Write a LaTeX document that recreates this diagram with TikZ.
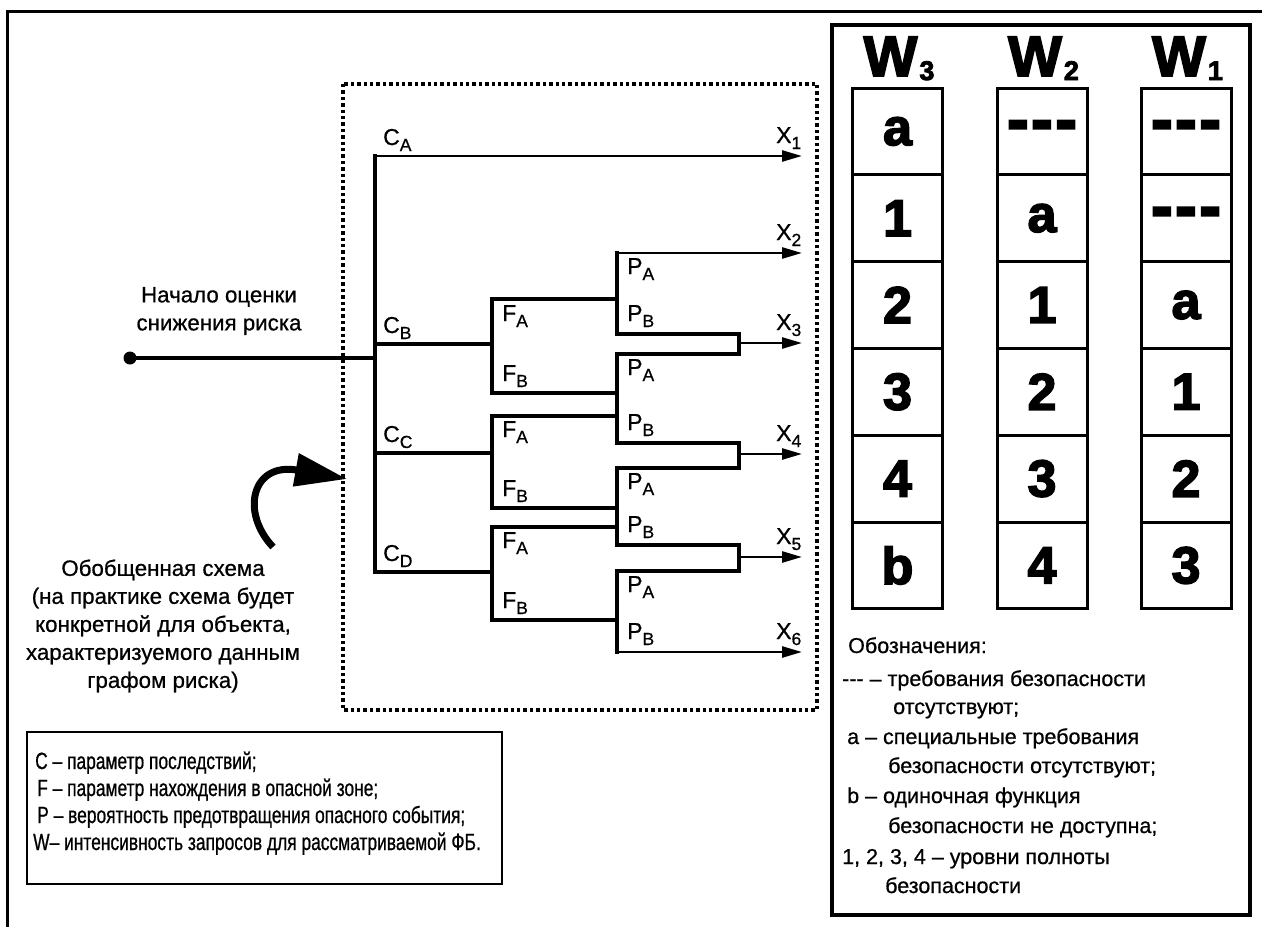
\documentclass[tikz,border=0pt]{standalone}
\usepackage{fontspec}
\setmainfont{Liberation Sans}
\newfontfamily\txtfont[FakeBold=0.7]{Liberation Sans}
\newfontfamily\narrowfont[FakeBold=0.7,FakeStretch=0.74]{Liberation Sans}
\newfontfamily\heavyfont[FakeBold=3]{Liberation Sans Bold}
\usetikzlibrary{arrows.meta}
\newcommand{\lbl}[2]{#1\raisebox{-6pt}{\fontsize{17.5}{17.5}\selectfont #2}}
\newcommand{\wsub}[1]{\kern2pt\raisebox{-4pt}{\fontsize{27}{27}\selectfont #1}}
\newcommand{\hy}{\hbox{-}}
\newcommand{\dsh}{\scalebox{1.25}[1.3]{\hbox{-}\kern2pt\hbox{-}\kern2pt\hbox{-}}}
\tikzset{
  ln/.style={line width=3.2pt, line cap=rect},
  arr/.style={line width=2.6pt, -{Triangle[length=20pt,width=11pt]}},
  lab/.style={inner sep=0pt, anchor=base west, font=\txtfont\fontsize{23}{23}\selectfont},
  txt/.style={inner sep=0pt, align=center, font=\txtfont\fontsize{22.3}{28}\selectfont},
  leg/.style={inner sep=0pt, anchor=base west, font=\narrowfont\fontsize{23.5}{23.5}\selectfont},
  note/.style={inner sep=0pt, anchor=base west, font=\txtfont\fontsize{21.5}{21.5}\selectfont},
  cell/.style={draw, line width=3pt, minimum width=90pt, minimum height=86.8pt, inner sep=0pt, font=\heavyfont\fontsize{52}{52}\selectfont},
  head/.style={inner sep=0pt, anchor=base, font=\heavyfont\fontsize{57}{57}\selectfont},
  dotbox/.style={line width=3.6pt, dash pattern=on 3.4pt off 3pt},
}
\begin{document}
\begin{tikzpicture}[x=1pt,y=-1pt]
\useasboundingbox (0,0) rectangle (1262,927);
% outer frame
\coordinate (fb) at (7,927); \coordinate (ftl) at (7,11); \coordinate (ftr) at (1262,11);
\draw[line width=3pt] (fb) -- (ftl) -- (ftr);
% right box
\draw[line width=4pt] (832,25) rectangle (1250,915);
% dotted box
\draw[dotbox] (343,84) rectangle (817,710);
% bottom-left legend box
\draw[line width=2.8pt] (27,732) rectangle (502,884);

% ---- tree coordinates
\node[circle, fill, inner sep=0pt, minimum size=13pt] (start) at (130,358) {};
\coordinate (c0) at (375,358);
\coordinate (cA) at (375,156); \coordinate (cB) at (375,344);
\coordinate (cC) at (375,453); \coordinate (cD) at (375,572);
\coordinate (x1) at (802,156);
\coordinate (fB) at (492,344); \coordinate (fBa) at (492,299); \coordinate (fBb) at (492,393);
\coordinate (fC) at (492,453); \coordinate (fCa) at (492,416); \coordinate (fCb) at (492,508);
\coordinate (fD) at (492,572); \coordinate (fDa) at (492,527); \coordinate (fDb) at (492,620);
\coordinate (p1a) at (617,253); \coordinate (p1f) at (617,299); \coordinate (p1b) at (617,334);
\coordinate (p2a) at (617,354); \coordinate (p2f) at (617,393); \coordinate (p2g) at (617,416); \coordinate (p2b) at (617,443);
\coordinate (p3a) at (617,468); \coordinate (p3f) at (617,508); \coordinate (p3g) at (617,527); \coordinate (p3b) at (617,545);
\coordinate (p4a) at (617,571); \coordinate (p4f) at (617,620); \coordinate (p4b) at (617,652);
\coordinate (m3t) at (739,334); \coordinate (m3b) at (739,354); \coordinate (m3) at (739,343);
\coordinate (m4t) at (739,443); \coordinate (m4b) at (739,468); \coordinate (m4) at (739,454);
\coordinate (m5t) at (739,545); \coordinate (m5b) at (739,571); \coordinate (m5) at (739,557);
\coordinate (x2) at (802,253); \coordinate (x3) at (802,343); \coordinate (x4) at (802,454);
\coordinate (x5) at (802,557); \coordinate (x6) at (802,652);

% ---- tree lines
\draw[ln] (start.center) -- (c0);
\draw[ln] (cA) -- (cD);
\draw[arr] (cA) -- (x1);
\draw[ln] (cB) -- (fB);
\draw[ln] (cC) -- (fC);
\draw[ln] (cD) -- (fD);
\draw[ln] (fBa) -- (fBb);
\draw[ln] (fCa) -- (fCb);
\draw[ln] (fDa) -- (fDb);
\draw[ln] (fBa) -- (p1f);
\draw[ln] (fBb) -- (p2f);
\draw[ln] (fCa) -- (p2g);
\draw[ln] (fCb) -- (p3f);
\draw[ln] (fDa) -- (p3g);
\draw[ln] (fDb) -- (p4f);
\draw[ln] (p1a) -- (p1b);
\draw[ln] (p2a) -- (p2b);
\draw[ln] (p3a) -- (p3b);
\draw[ln] (p4a) -- (p4b);
\draw[arr] (p1a) -- (x2);
\draw[ln] (p1b) -- (m3t) -- (m3b) -- (p2a);
\draw[arr] (m3) -- (x3);
\draw[ln] (p2b) -- (m4t) -- (m4b) -- (p3a);
\draw[arr] (m4) -- (x4);
\draw[ln] (p3b) -- (m5t) -- (m5b) -- (p4a);
\draw[arr] (m5) -- (x5);
\draw[arr] (p4b) -- (x6);

% ---- tree labels
\node[lab] (lCA) at (383,145) {\lbl{C}{A}};
\node[lab] (lCB) at (383,333) {\lbl{C}{B}};
\node[lab] (lCC) at (383,442) {\lbl{C}{C}};
\node[lab] (lCD) at (383,561) {\lbl{C}{D}};
\node[lab] (lFA1) at (502,321) {\lbl{F}{A}};
\node[lab] (lFB1) at (502,381) {\lbl{F}{B}};
\node[lab] (lFA2) at (502,437) {\lbl{F}{A}};
\node[lab] (lFB2) at (502,496) {\lbl{F}{B}};
\node[lab] (lFA3) at (502,548) {\lbl{F}{A}};
\node[lab] (lFB3) at (502,608) {\lbl{F}{B}};
\node[lab] (lPA1) at (627,274) {\lbl{P}{A}};
\node[lab] (lPB1) at (627,321) {\lbl{P}{B}};
\node[lab] (lPA2) at (627,375) {\lbl{P}{A}};
\node[lab] (lPB2) at (627,430) {\lbl{P}{B}};
\node[lab] (lPA3) at (627,489) {\lbl{P}{A}};
\node[lab] (lPB3) at (627,532) {\lbl{P}{B}};
\node[lab] (lPA4) at (627,592) {\lbl{P}{A}};
\node[lab] (lPB4) at (627,639) {\lbl{P}{B}};
\node[lab] (lX1) at (776,143) {\lbl{X}{1}};
\node[lab] (lX2) at (776,240) {\lbl{X}{2}};
\node[lab] (lX3) at (776,330) {\lbl{X}{3}};
\node[lab] (lX4) at (776,441) {\lbl{X}{4}};
\node[lab] (lX5) at (776,544) {\lbl{X}{5}};
\node[lab] (lX6) at (776,639) {\lbl{X}{6}};

% ---- left texts
\node[txt] (nach) at (219,311) {Начало оценки\\снижения риска};
\node[txt] (obob) at (163,626) {Обобщенная схема\\(на практике схема будет\\конкретной для объекта,\\характеризуемого данным\\графом риска)};
% curved arrow
\coordinate (cs) at (273,547);
\coordinate (ct) at (347,479);
\draw[line width=7pt, -{Triangle[length=52pt,width=32pt]}] (cs) .. controls (240,512) and (252,462) .. (ct);

% ---- bottom-left legend
\node[leg] (g1) at (35,769) {C – параметр последствий;};
\node[leg] (g2) at (37,796) {F – параметр нахождения в опасной зоне;};
\node[leg] (g3) at (37,823) {P – вероятность предотвращения опасного события;};
\node[leg] (g4) at (33,850) {W– интенсивность запросов для рассматриваемой ФБ.};

% ---- W table
\node[head] (hw3) at (899,76) {W\wsub{3}};
\node[head] (hw2) at (1043.5,76) {W\wsub{2}};
\node[head] (hw1) at (1187.5,76) {W\wsub{1}};
\foreach \t [count=\i from 0] in {a,1,2,3,4,b}
  \node[cell] (wa\i) at (897.5,131.4+86.8*\i) {\t};
\foreach \t [count=\i from 0] in {{\dsh},a,1,2,3,4}
  \node[cell] (wb\i) at (1042,131.4+86.8*\i) {\t};
\foreach \t [count=\i from 0] in {{\dsh},{\dsh},a,1,2,3}
  \node[cell] (wc\i) at (1186,131.4+86.8*\i) {\t};

% ---- right legend
\node[note] (n0) at (848,653) {Обозначения:};
\node[note] (n1) at (842,686) {\hy\hy\hy{} – требования безопасности};
\node[note] (n2) at (893,714) {отсутствуют;};
\node[note] (n3) at (847,744) {a – специальные требования};
\node[note] (n4) at (888,773) {безопасности отсутствуют;};
\node[note] (n5) at (847,803) {b – одиночная функция};
\node[note] (n6) at (888,833) {безопасности не доступна;};
\node[note] (n7) at (842,864) {1, 2, 3, 4 – уровни полноты};
\node[note] (n8) at (885,893) {безопасности};
\end{tikzpicture}
\end{document}
